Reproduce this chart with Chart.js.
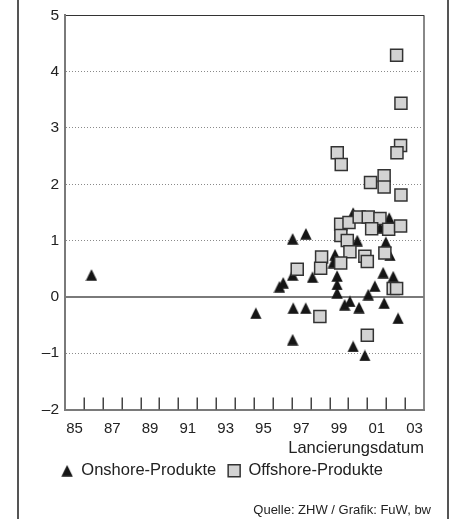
<!DOCTYPE html>
<html>
<head>
<meta charset="utf-8">
<script src="https://cdn.jsdelivr.net/npm/chart.js@4/dist/chart.umd.min.js"></script>
<style>
  html, body { margin: 0; padding: 0; background: #fff; }
  #wrap { position: relative; width: 450px; height: 519px; overflow: hidden; }
  #frame { position: absolute; left: 17px; top: 0; width: 432px; height: 519px; box-sizing: border-box;
           border-left: 2px solid #555; border-right: 2px solid #555; pointer-events: none; }
  #source { position: absolute; right: 19px; top: 502px; font: 13px 'Liberation Sans Narrow', 'Liberation Sans', sans-serif; color: #222; }
</style>
</head>
<body>
<div id="wrap">
  <canvas id="chart" width="450" height="519"></canvas>
  <div id="frame"></div>
  <div id="source">Quelle: ZHW / Grafik: FuW, bw</div>
</div>
<script>
// Lancierungsdatum (decimal year) and value per product
const onshoreYears = [1986.4, 1995.1, 1996.35, 1996.55, 1997.05, 1997.75, 1997.05, 1997.08, 1997.74, 1997.05,
  1998.1, 1999.29, 1999.2, 1999.4, 1999.4, 1999.4, 1999.8, 2000.08, 2000.56, 2000.25,
  2000.47, 2001.67, 2002.16, 2001.98, 2002.2, 2001.84, 2002.37, 2001.4, 2001.05, 2001.89,
  2002.63, 2000.25, 2000.87];
const onshoreValues = [0.39, -0.29, 0.18, 0.25, 1.03, 1.12, 0.39, -0.2, -0.2, -0.76,
  0.35, 0.75, 0.61, 0.37, 0.22, 0.07, -0.14, -0.08, -0.19, 1.49,
  1.0, 1.23, 1.4, 0.97, 0.74, 0.43, 0.36, 0.19, 0.04, -0.11,
  -0.38, -0.88, -1.04];

const offshoreYears = [2002.55, 2002.78, 1999.41, 1999.62, 2002.76, 2002.57, 2001.89, 2001.17, 2001.89, 2002.78,
  1999.59, 2000.03, 2000.57, 2001.05, 2001.67, 2001.23, 2002.13, 2002.76, 1999.6, 1999.94,
  2000.08, 2000.87, 2001.0, 2001.93, 1999.59, 2002.37, 2002.55, 1998.58, 1998.53, 1997.29,
  1998.49, 2001.0];
const offshoreValues = [4.29, 3.44, 2.56, 2.35, 2.69, 2.56, 2.15, 2.03, 1.95, 1.81,
  1.29, 1.32, 1.42, 1.42, 1.39, 1.21, 1.2, 1.26, 1.09, 1.0,
  0.8, 0.72, 0.63, 0.78, 0.6, 0.15, 0.15, 0.71, 0.51, 0.49,
  -0.35, -0.68];

const seriesLabels = ['Onshore-Produkte', 'Offshore-Produkte'];
const xTitle = 'Lancierungsdatum';
const yTicks = [-2, -1, 0, 1, 2, 3, 4, 5];
const xRange = [1985, 2004];

const FONT = "'Liberation Sans Narrow', 'Liberation Sans', sans-serif";
Chart.defaults.font.family = FONT;
Chart.defaults.color = '#222';

// triangle marker, a bit taller than equilateral like the print
const tri = document.createElement('canvas');
tri.width = 12; tri.height = 12;
(() => {
  const c = tri.getContext('2d');
  c.fillStyle = '#151515';
  c.beginPath();
  c.moveTo(0.3, 11.7);
  c.lineTo(6, 0.3);
  c.lineTo(11.7, 11.7);
  c.closePath();
  c.fill();
})();

const toPoints = (xs, ys) => xs.map((x, i) => ({ x, y: ys[i] }));

// small inward tick marks on the x axis
const innerTicks = {
  id: 'innerTicks',
  afterDraw(chart) {
    const sx = chart.scales.x, area = chart.chartArea, ctx = chart.ctx;
    ctx.save();
    ctx.strokeStyle = '#444';
    ctx.lineWidth = 1.5;
    sx.ticks.forEach(t => {
      if (t.value <= sx.min || t.value >= sx.max) return;
      const px = Math.round(sx.getPixelForValue(t.value)) + 0.25;
      ctx.beginPath();
      ctx.moveTo(px, area.bottom);
      ctx.lineTo(px, area.bottom - 12);
      ctx.stroke();
    });
    ctx.restore();
  }
};

new Chart(document.getElementById('chart'), {
  type: 'scatter',
  data: {
    datasets: [{
      label: seriesLabels[1],
      data: toPoints(offshoreYears, offshoreValues),
      pointStyle: 'rect',
      pointRadius: 8.5,
      backgroundColor: '#d3d3d3',
      borderColor: '#333',
      borderWidth: 1.5
    }, {
      label: seriesLabels[0],
      data: toPoints(onshoreYears, onshoreValues),
      pointStyle: tri,
      pointRadius: 6,
      backgroundColor: '#151515',
      borderColor: '#151515',
      borderWidth: 0
    }]
  },
  options: {
    responsive: false,
    animation: false,
    events: [],
    devicePixelRatio: 1,
    layout: { padding: { left: 20, right: 26, top: 12, bottom: 30 } },
    plugins: {
      tooltip: { enabled: false },
      legend: {
        position: 'bottom',
        reverse: true,
        labels: {
          usePointStyle: true,
          boxWidth: 12,
          boxHeight: 12,
          padding: 12,
          color: '#222',
          font: { size: 16.5 }
        }
      }
    },
    scales: {
      x: {
        type: 'linear',
        min: xRange[0],
        max: xRange[1],
        afterFit: s => { s.height = 41; },
        ticks: {
          stepSize: 1,
          autoSkip: false,
          maxRotation: 0,
          padding: 10,
          labelOffset: 9.5,
          color: '#222',
          font: { size: 15 },
          callback: v => (v % 2 === 1 && v < xRange[1]) ? String(v % 100).padStart(2, '0') : ''
        },
        grid: {
          drawTicks: false,
          color: c => c.tick && c.tick.value === xRange[1] ? '#888' : 'rgba(0,0,0,0)',
          lineWidth: 2
        },
        border: { display: true, color: '#7a7a7a', width: 2 },
        title: {
          display: true,
          text: xTitle,
          align: 'end',
          color: '#222',
          font: { size: 16.5 },
          padding: { top: 0, bottom: -8 }
        }
      },
      y: {
        min: yTicks[0],
        max: yTicks[yTicks.length - 1],
        afterFit: s => { s.width = 45; },
        ticks: {
          stepSize: 1,
          padding: 6,
          color: '#222',
          font: { size: 15.5 },
          callback: v => v < 0 ? '\u2013' + Math.abs(v) : String(v)
        },
        grid: {
          drawTicks: false,
          color: c => {
            const v = c.tick && c.tick.value;
            if (v === 0 || v === yTicks[0]) return '#7a7a7a';
            if (v === yTicks[yTicks.length - 1]) return '#333';
            return '#8a8a8a';
          },
          lineWidth: c => {
            const v = c.tick && c.tick.value;
            return (v === 0 || v === yTicks[0]) ? 2 : 1;
          }
        },
        border: {
          display: true,
          color: '#7a7a7a',
          width: 2,
          dash: c => {
            const v = c.tick && c.tick.value;
            return (c.tick && v !== 0 && v !== yTicks[0] && v !== yTicks[yTicks.length - 1]) ? [1, 2] : [];
          }
        }
      }
    }
  },
  plugins: [innerTicks]
});
</script>
</body>
</html>
